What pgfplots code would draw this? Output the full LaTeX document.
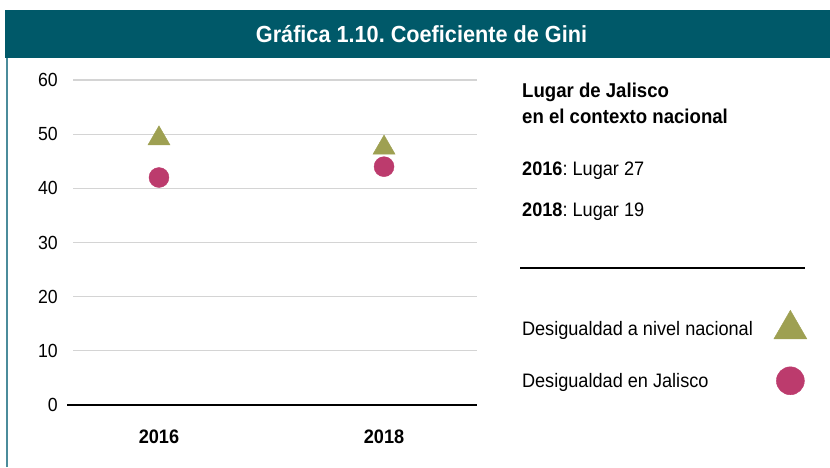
\documentclass[border=0pt]{standalone}
\usepackage{pgfplots}
\pgfplotsset{compat=1.18}
\usepackage{fontspec}
\setmainfont[FakeStretch=0.93]{Liberation Sans}
\frenchspacing
\definecolor{titlebg}{RGB}{0,89,105}
\definecolor{leftbar}{RGB}{75,140,155}
\definecolor{olivec}{RGB}{158,160,82}
\definecolor{rosec}{RGB}{188,59,109}
\definecolor{gridc}{RGB}{212,212,212}
\begin{document}
\begin{tikzpicture}[x=1pt,y=1pt]
\useasboundingbox (0,0) rectangle (830,467);
% title band
\fill[titlebg] (5,409) rectangle (830,457);
\node[white, font=\fontsize{23.3}{26}\selectfont\bfseries] at (421.5,433) {Gráfica 1.10. Coeficiente de Gini};
\draw[leftbar, line width=2pt] (7,0) -- (7,409);
\begin{axis}[
  at={(73pt,62pt)}, anchor=south west,
  scale only axis, width=404pt, height=325pt,
  xmin=-0.382, xmax=1.413, ymin=0, ymax=60,
  ytick={0,10,...,60}, xtick={0,1}, xticklabels={2016,2018},
  axis x line*=bottom, axis y line*=left,
  y axis line style={draw=none},
  x axis line style={black, line width=1.2pt, shorten <=-6pt},
  tick style={draw=none},
  ymajorgrids, grid style={gridc, line width=1.2pt},
  /pgf/number format/assume math mode=true,
  yticklabel style={font=\fontsize{19}{22}\selectfont, anchor=east, inner sep=0pt, xshift=-15pt},
  xticklabel style={font=\fontsize{19.5}{22}\selectfont\bfseries, anchor=north, inner sep=0pt, yshift=-25pt},
  clip=false,
  legend plot pos=right,
  legend cell align=left,
  legend style={at={(1.111,0.292)}, anchor=north west, draw=none, fill=none,
    inner sep=0pt, row sep=28pt, column sep=21pt,
    font=\fontsize{19.5}{22}\selectfont,
    nodes={inner sep=0pt}},
  legend image code/.code={\draw[#1] plot coordinates {(0pt,0pt)};},
]
\addplot[only marks, mark=triangle*, mark size=12.7pt, color=olivec, forget plot] coordinates {(0,49.2) (1,47.5)};
\addplot[only marks, mark=*, mark size=10pt, color=rosec, forget plot] coordinates {(0,42.0) (1,44.0)};
\addlegendimage{only marks, mark=triangle*, mark size=19pt, color=olivec}
\addlegendentry{Desigualdad a nivel nacional}
\addlegendimage{only marks, mark=*, mark size=14pt, color=rosec}
\addlegendentry{Desigualdad en Jalisco}
\end{axis}
% right panel text
\node[anchor=base west, inner sep=0pt, font=\fontsize{20}{23}\selectfont\bfseries] at (522,369.7) {Lugar de Jalisco};
\node[anchor=base west, inner sep=0pt, font=\fontsize{20}{23}\selectfont\bfseries] at (522,343.7) {en el contexto nacional};
\node[anchor=base west, inner sep=0pt, font=\fontsize{19.5}{22}\selectfont] at (522,292) {\textbf{2016}: Lugar 27};
\node[anchor=base west, inner sep=0pt, font=\fontsize{19.5}{22}\selectfont] at (522,250.3) {\textbf{2018}: Lugar 19};
\draw[black, line width=1.2pt] (520,199) -- (805,199);
\end{tikzpicture}
\end{document}
